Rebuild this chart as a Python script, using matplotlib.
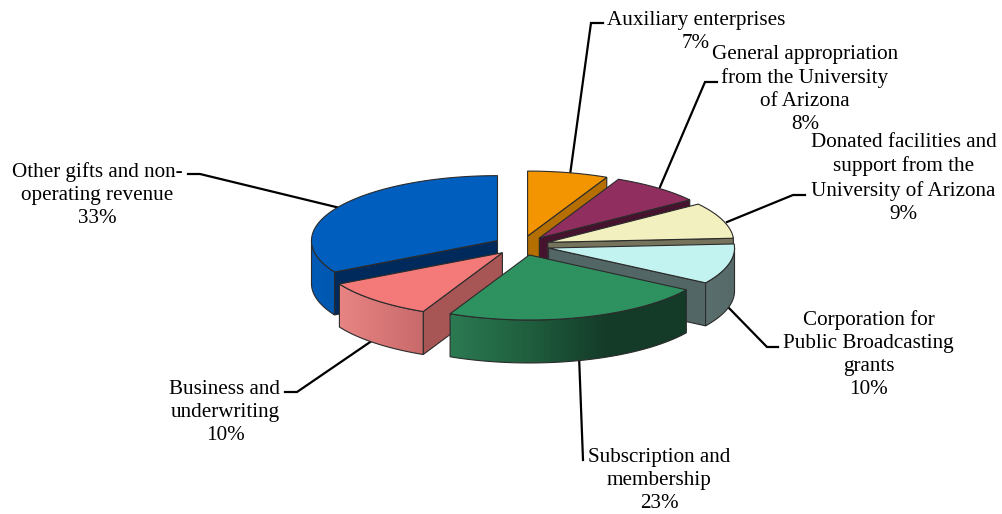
import numpy as np
import matplotlib.pyplot as plt
from matplotlib.colors import LinearSegmentedColormap
from matplotlib.patches import Polygon

plt.rcParams['font.family'] = ['Liberation Serif', 'DejaVu Serif']

# shares in percent, clockwise from 12 o'clock
names = ['Auxiliary enterprises', 'General appropriation\nfrom the University\nof Arizona',
         'Donated facilities and\nsupport from the\nUniversity of Arizona',
         'Corporation for\nPublic Broadcasting\ngrants', 'Subscription and\nmembership',
         'Business and\nunderwriting', 'Other gifts and non-\noperating revenue']
shares = [7, 8, 9, 10, 23, 10, 33]

top_colors = ['#F39500', '#8F2E5F', '#F2F0BE', '#C3F3F1', '#2E9260', '#F47A7A', '#005EBE']
cut_colors = ['#B56F00', '#45132E', '#75735C', '#526666', '#143A28', '#A85555', '#002A5C']
# colour stops of the outer wall, left to right
wall_colors = [['#B56F00', '#B56F00'], ['#45132E', '#45132E'], ['#75735C', '#75735C'],
               ['#5A6E6E', '#566A6A'], ['#2B7A52', '#1F5E3E', '#143A28', '#143A28'],
               ['#E88484', '#C96A6A'], ['#005AB5', '#0058B0']]

# label block centres and leader lines, in pixels of the picture
label_x = [696, 805, 903.5, 868.5, 659, 225, 97]
label_y = [32, 89.5, 178.5, 354.5, 480.5, 412.5, 195]
leaders = [[(570, 175), (591, 23), (603, 23)],
           [(660, 187), (705, 82), (717, 82)],
           [(727, 222), (793, 195), (805, 195)],
           [(727, 306), (767, 347), (778, 347)],
           [(579, 355), (583, 460)],
           [(376, 338), (297, 392), (285, 392)],
           [(340, 208), (200, 174), (188, 174)]]

cx, cy = 521.5, 245.6
rx, ry = 186.0, 65.0
explode = 0.15
depth = 43
outline = '#2b2b2b'


def rim(t):
    return rx * np.sin(t), -ry * np.cos(t)


fig = plt.figure(figsize=(10.03, 5.14), dpi=100)
ax = fig.add_axes([0, 0, 1, 1])

for pts in leaders:
    xs, ys = zip(*pts)
    ax.plot(xs, ys, color='black', lw=1.6, zorder=1, solid_joinstyle='miter')

edges = np.deg2rad(np.cumsum([0] + shares) * 3.6)
# painter's order, back slices first
order = [6, 0, 1, 2, 3, 5, 4]
z = 2
for i in order:
    a, b = edges[i], edges[i + 1]
    mid = (a + b) / 2
    ox = cx + explode * rx * np.sin(mid)
    oy = cy - explode * ry * np.cos(mid)

    # cut faces that look towards the viewer
    for t in (a, b):
        sign = np.sin(t) if t == b else -np.sin(t)
        if sign > 0.001:
            dx, dy = rim(t)
            ax.fill([ox, ox + dx, ox + dx, ox], [oy, oy + dy, oy + dy + depth, oy + depth],
                    facecolor=cut_colors[i], edgecolor=outline, lw=0.8, zorder=z)
            z += 1

    # outer wall, only the front half of the rim
    lo, hi = max(a, np.pi / 2), min(b, 3 * np.pi / 2)
    if hi > lo:
        ts = np.linspace(lo, hi, 90)
        dx, dy = rim(ts)
        xs, ys = ox + dx, oy + dy
        wall = np.c_[np.r_[xs, xs[::-1]], np.r_[ys, ys[::-1] + depth]]
        cmap = LinearSegmentedColormap.from_list('wall', wall_colors[i])
        img = ax.imshow(np.linspace(0, 1, 256)[None, :], cmap=cmap, aspect='auto', zorder=z,
                        extent=(xs.min(), xs.max(), ys.max() + depth, ys.min()))
        img.set_clip_path(Polygon(wall, transform=ax.transData))
        z += 1
        ax.fill(wall[:, 0], wall[:, 1], facecolor='none', edgecolor=outline, lw=0.8, zorder=z)
        z += 1

    # top face
    ts = np.linspace(a, b, 80)
    dx, dy = rim(ts)
    ax.fill(np.r_[ox, ox + dx], np.r_[oy, oy + dy], facecolor=top_colors[i],
            edgecolor=outline, lw=0.8, zorder=z, joinstyle='miter')
    z += 1

for name, share, x, y in zip(names, shares, label_x, label_y):
    ax.text(x, y, f'{name}\n{share}%', ha='center', va='center', fontsize=15.2,
            linespacing=1.3, color='black', zorder=z)

ax.set_xlim(0, 1003)
ax.set_ylim(514, 0)
ax.axis('off')
fig.savefig('out.png', dpi=100)
